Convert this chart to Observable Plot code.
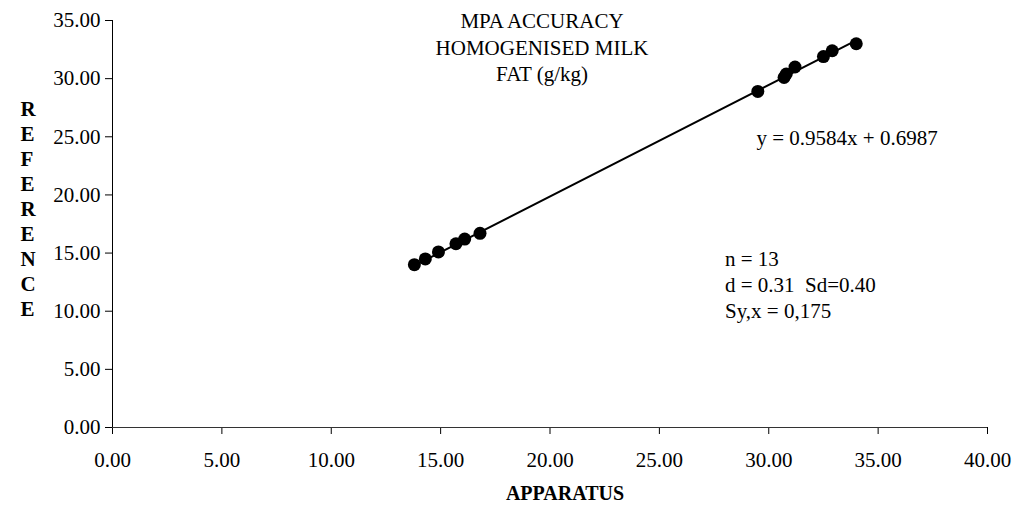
<!DOCTYPE html>
<html>
<head>
<meta charset="utf-8">
<script src="https://cdn.jsdelivr.net/npm/d3@7"></script>
<script src="https://cdn.jsdelivr.net/npm/@observablehq/plot@0.6"></script>
<style>
  html, body { margin: 0; padding: 0; background: #fff; }
  #chart svg { display: block; }
</style>
</head>
<body>
<div id="chart"></div>
<script>
// Apparatus readings (x) and reference results (y), fat in g/kg
const apparatus = [13.8, 14.3, 14.9, 15.7, 16.1, 16.8, 29.5, 30.7, 30.8, 31.2, 32.5, 32.9, 34.0];
const reference = [14.0, 14.5, 15.1, 15.8, 16.2, 16.7, 28.9, 30.1, 30.4, 31.0, 31.9, 32.4, 33.0];

// Linear fit reported on the chart
const slope = 0.9584;
const intercept = 0.6987;

// Axis ticks
const xTicks = [0, 5, 10, 15, 20, 25, 30, 35, 40];
const yTicks = [0, 5, 10, 15, 20, 25, 30, 35];

// Text blocks
const titleLines = ["MPA ACCURACY", "HOMOGENISED MILK", "FAT (g/kg)"];
const equationText = `y = ${slope}x + ${intercept}`;
const statsLines = ["n = 13", "d = 0.31\u00a0\u00a0Sd=0.40", "Sy,x = 0,175"];
const xLabel = "APPARATUS";
const yLabel = "REFERENCE";

const points = apparatus.map((x, i) => ({x, y: reference[i]}));
const [x0, x1] = d3.extent(apparatus);
const fit = [x0, x1].map(x => ({x, y: slope * x + intercept}));

const fmt = d3.format(".2f");

const chart = Plot.plot({
  width: 1015,
  height: 506,
  marginLeft: 112,
  marginRight: 28,
  marginTop: 20,
  marginBottom: 79,
  x: {domain: [0, 40]},
  y: {domain: [0, 35]},
  style: {
    fontFamily: "'Liberation Serif', 'Times New Roman', serif",
    fontSize: "21px",
    background: "#ffffff",
    color: "#000000",
    overflow: "visible"
  },
  marks: [
    Plot.axisX({ticks: xTicks, tickFormat: fmt, tickSize: 7, tickPadding: 18, label: null, fontSize: 21}),
    Plot.axisY({ticks: yTicks, tickFormat: fmt, tickSize: 7, tickPadding: 5, label: null, fontSize: 21}),
    Plot.ruleY([0], {stroke: "#333", strokeWidth: 1.2}),
    Plot.ruleX([0], {stroke: "#000", strokeWidth: 1}),
    Plot.line(fit, {x: "x", y: "y", stroke: "#000", strokeWidth: 2}),
    Plot.dot(points, {x: "x", y: "y", r: 6.5, fill: "#000", stroke: "none"}),
    // chart title
    Plot.text([titleLines.join("\n")], {
      frameAnchor: "top", dx: -8, dy: -11, lineAnchor: "top", lineHeight: 1.26,
      fontSize: 21, fill: "#000"
    }),
    // regression equation
    Plot.text([equationText], {
      x: 29.44, y: 24.85, textAnchor: "start", lineAnchor: "middle",
      fontSize: 21, fill: "#000"
    }),
    // summary statistics
    Plot.text([statsLines.join("\n")], {
      x: 28.0, y: 12.38, textAnchor: "start", lineAnchor: "middle", lineHeight: 1.26,
      fontSize: 21, fill: "#000"
    }),
    // axis titles
    Plot.text([xLabel], {
      frameAnchor: "bottom", dx: 15, dy: 66, lineAnchor: "middle",
      fontSize: 20, fontWeight: "bold", fill: "#000"
    }),
    Plot.text([yLabel.split("").join("\n")], {
      frameAnchor: "left", dx: -92, dy: -16, lineAnchor: "middle", lineHeight: 1.19,
      fontSize: 21, fontWeight: "bold", fill: "#000"
    })
  ]
});

document.getElementById("chart").appendChild(chart);
</script>
</body>
</html>
